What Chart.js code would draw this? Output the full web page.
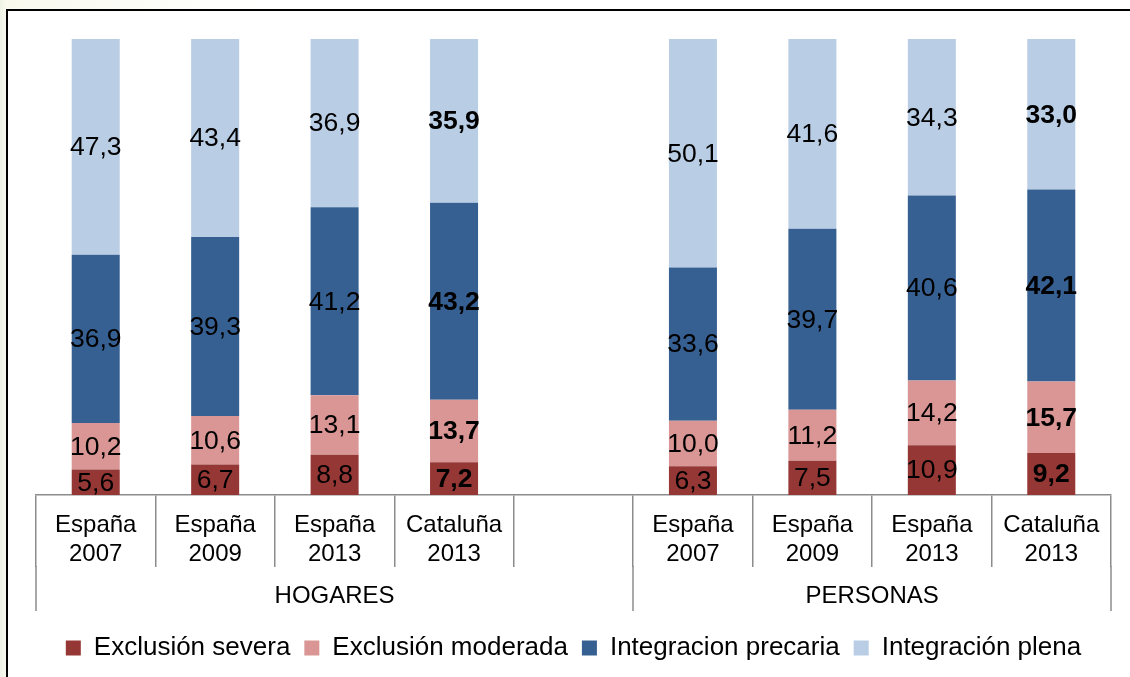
<!DOCTYPE html>
<html>
<head>
<meta charset="utf-8">
<script src="https://cdn.jsdelivr.net/npm/chart.js@4.4.0/dist/chart.umd.min.js"></script>
<style>
    body {
        margin: 0;
        width: 1130px;
        height: 677px;
        overflow: hidden;
        background: linear-gradient(90deg, #eef2e6 0px, #f9f9ee 6px, #ffffff 260px);
    }
    #frame {
        position: absolute;
        left: 6px;
        top: 9px;
        width: 1124px;
        height: 668px;
        border-top: 2px solid #000;
        border-left: 2px solid #000;
        background: #fff;
    }
</style>
</head>
<body>
<div id="frame"><canvas id="chart" width="1122" height="666"></canvas></div>

<script>
    const categories = [
        ['España', '2007'], ['España', '2009'], ['España', '2013'], ['Cataluña', '2013'],
        '',
        ['España', '2007'], ['España', '2009'], ['España', '2013'], ['Cataluña', '2013']
    ];
    const exclusionSevera    = [5.6, 6.7, 8.8, 7.2, null, 6.3, 7.5, 10.9, 9.2];
    const exclusionModerada  = [10.2, 10.6, 13.1, 13.7, null, 10.0, 11.2, 14.2, 15.7];
    const integracionPrecaria = [36.9, 39.3, 41.2, 43.2, null, 33.6, 39.7, 40.6, 42.1];
    const integracionPlena   = [47.3, 43.4, 36.9, 35.9, null, 50.1, 41.6, 34.3, 33.0];

    const groupLabels = ['HOGARES', 'PERSONAS'];
    const groupFirst = [0, 5];
    const groupLast = [4, 8];
    const boldCategories = [3, 8];

    const FONT = "'Liberation Sans', Arial, sans-serif";
    const AXIS_GREY = '#8c8c8c';

    // value labels centred in each segment
    const segmentLabels = {
        id: 'segmentLabels',
        afterDatasetsDraw(chart) {
            const ctx = chart.ctx;
            ctx.save();
            ctx.textAlign = 'center';
            ctx.textBaseline = 'middle';
            ctx.fillStyle = '#000';
            chart.data.datasets.forEach((ds, di) => {
                const meta = chart.getDatasetMeta(di);
                meta.data.forEach((bar, i) => {
                    const v = ds.data[i];
                    if (v === null) return;
                    const bold = boldCategories.includes(i);
                    ctx.font = (bold ? 'bold ' : '') + '26.5px ' + FONT;
                    ctx.fillText(v.toFixed(1).replace('.', ','), bar.x, (bar.y + bar.base) / 2 + 1);
                });
            });
            ctx.restore();
        }
    };

    // second level of the category axis (HOGARES / PERSONAS)
    const groupAxis = {
        id: 'groupAxis',
        afterDraw(chart) {
            const x = chart.scales.x;
            const ctx = chart.ctx;
            const half = (x.getPixelForValue(1) - x.getPixelForValue(0)) / 2;
            const top = x.top + 72;
            const bottom = x.top + 116;
            ctx.save();
            ctx.strokeStyle = AXIS_GREY;
            ctx.lineWidth = 1.5;
            ctx.fillStyle = '#000';
            ctx.font = '24px ' + FONT;
            ctx.textAlign = 'center';
            ctx.textBaseline = 'middle';
            const edges = new Set();
            groupLabels.forEach((g, k) => {
                const l = x.getPixelForValue(groupFirst[k]) - half;
                const r = x.getPixelForValue(groupLast[k]) + half;
                edges.add(Math.round(l));
                edges.add(Math.round(r));
                ctx.fillText(g, (l + r) / 2, x.top + 101);
            });
            edges.forEach(e => {
                ctx.beginPath();
                ctx.moveTo(e, top - 1);
                ctx.lineTo(e, bottom);
                ctx.stroke();
            });
            ctx.restore();
        }
    };

    const data = {
        labels: categories,
        datasets: [
            { label: 'Exclusión severa', data: exclusionSevera, backgroundColor: '#953735' },
            { label: 'Exclusión moderada', data: exclusionModerada, backgroundColor: '#d99694' },
            { label: 'Integracion precaria', data: integracionPrecaria, backgroundColor: '#376092' },
            { label: 'Integración plena', data: integracionPlena, backgroundColor: '#b9cde5' }
        ]
    };

    const config = {
        type: 'bar',
        data: data,
        options: {
            responsive: false,
            animation: false,
            layout: {
                padding: { left: 28, right: 19, top: 28, bottom: 6 }
            },
            datasets: {
                bar: { barPercentage: 0.402, categoryPercentage: 1, borderWidth: 0 }
            },
            scales: {
                x: {
                    stacked: true,
                    offset: true,
                    grid: {
                        offset: true,
                        drawOnChartArea: false,
                        drawTicks: true,
                        tickLength: 72,
                        color: AXIS_GREY,
                        lineWidth: 1.5
                    },
                    border: { display: true, color: AXIS_GREY, width: 1.5 },
                    ticks: {
                        autoSkip: false,
                        maxRotation: 0,
                        padding: -56,
                        color: '#000',
                        font: { family: FONT, size: 24, lineHeight: 1.2 }
                    },
                    afterFit(scale) { scale.height = 126; }
                },
                y: {
                    stacked: true,
                    display: false,
                    min: 0,
                    max: 100
                }
            },
            plugins: {
                legend: {
                    position: 'bottom',
                    labels: {
                        boxWidth: 15,
                        boxHeight: 15,
                        padding: 14,
                        color: '#000',
                        font: { family: FONT, size: 26 }
                    }
                },
                tooltip: { enabled: false }
            }
        },
        plugins: [segmentLabels, groupAxis]
    };

    var chart = new Chart(document.getElementById('chart'), config);
</script>
</body>
</html>
